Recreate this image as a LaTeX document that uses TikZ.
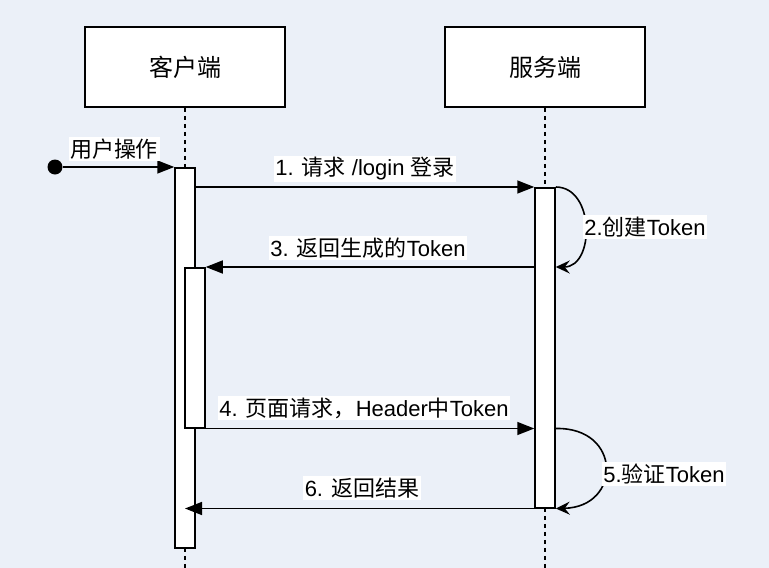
\documentclass[tikz,border=0pt]{standalone}
\usepackage{fontspec}
\setmainfont{Liberation Sans}
\newfontfamily\cjk{Noto Sans CJK SC}
\usetikzlibrary{arrows.meta}
\definecolor{bgblue}{RGB}{235,240,248}
\begin{document}
\begin{tikzpicture}[x=1pt,y=-1pt,
  actorbox/.style={draw,line width=1.5pt,fill=white,minimum width=200pt,minimum height=80pt,inner sep=0pt,font=\fontsize{24}{28}\selectfont},
  actbar/.style={draw,line width=1.5pt,fill=white,minimum width=20pt,inner sep=0pt},
  msg/.style={line width=1.6pt,-{Triangle[length=17pt,width=13pt]}},
  selfmsg/.style={line width=1.6pt,-{Stealth[length=14pt,width=13pt,inset=5pt]}},
  lbl/.style={fill=white,inner sep=1.5pt,font=\fontsize{22}{26}\selectfont},
  life/.style={line width=1.3pt,dash pattern=on 4pt off 4pt}]
\useasboundingbox (0,0) rectangle (769,568);
\fill[bgblue] (0,0) rectangle (769,568);

% actors
\node[actorbox] (client) at (185,67) {\cjk 客户端};
\node[actorbox] (server) at (545,67) {\cjk 服务端};

% lifelines
\coordinate (cend) at (185,568);
\coordinate (send) at (545,568);
\draw[life] (client.south) -- (cend);
\draw[life] (server.south) -- (send);

% activations
\node[actbar,minimum height=380pt,anchor=north] (ca) at (185,167) {};
\node[actbar,minimum height=160pt,anchor=north] (cn) at (195,267) {};
\node[actbar,minimum height=320pt,anchor=north] (sa) at (545,187) {};

% start
\node[circle,fill=black,inner sep=0pt,minimum size=15pt] (start) at (55,167) {};
\draw[msg] (start) -- (ca.north west);
\node[lbl] (l0) at (114,149) {\cjk 用户操作};

% 1
\draw[msg] (ca.east |- sa.north) -- (sa.north west);
\node[lbl] (l1) at (365,169) {1. {\cjk 请求} /login {\cjk 登录}};

% 2 self
\draw[selfmsg] (sa.north east) .. controls (595,187) and (595,267) .. (sa.east |- cn.north);
\node[lbl] (l2) at (645,227) {2.{\cjk 创建}Token};

% 3
\draw[msg] (sa.west |- cn.north) -- (cn.north east);
\node[lbl] (l3) at (368,248) {3. {\cjk 返回生成的}Token};

% 4
\draw[msg] (cn.south east) -- (sa.west |- cn.south);
\node[lbl] (l4) at (364,408) {4. {\cjk 页面请求，}Header{\cjk 中}Token};

% 5 self
\draw[selfmsg] (sa.east |- cn.south) .. controls (622,427) and (622,507) .. (sa.south east);
\node[lbl] (l5) at (664,474) {5.{\cjk 验证}Token};

% 6
\draw[msg] (sa.south west) -- (ca.center |- sa.south);
\node[lbl] (l6) at (362,488) {6. {\cjk 返回结果}};
\end{tikzpicture}
\end{document}
